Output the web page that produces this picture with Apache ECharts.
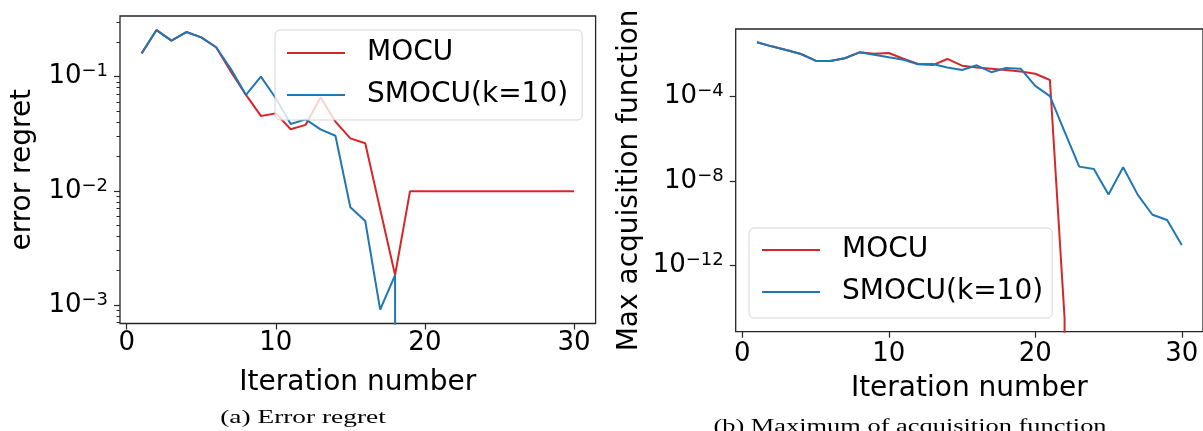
<!DOCTYPE html>
<html><head><meta charset="utf-8">
<script src="https://cdn.jsdelivr.net/npm/echarts@6/dist/echarts.min.js"></script>
<style>html,body{margin:0;padding:0;background:#fff}#c{width:1203px;height:431px}</style>
</head><body><div id="c"></div>
<script>
// ---------------- data ----------------
const iterations = [1,2,3,4,5,6,7,8,9,10,11,12,13,14,15,16,17,18,19,20,21,22,23,24,25,26,27,28,29,30];
// (a) error regret
const errMocu  = [0.160,0.256,0.207,0.246,0.221,0.181,0.110,0.0692,0.0453,0.0477,0.0346,0.0378,0.0660,0.0404,0.0288,0.0261,0.0069,0.00183,0.0099,0.0099,0.0099,0.0099,0.0099,0.0099,0.0099,0.0099,0.0099,0.0099,0.0099,0.0099];
const errSmocu = [0.160,0.256,0.207,0.246,0.221,0.181,0.116,0.0692,0.100,0.0647,0.0385,0.0423,0.0346,0.0304,0.00718,0.00544,0.00091,0.00183,0,0,0,0,0,0,0,0,0,0,0,0];
// (b) max of acquisition function
const acqMocu  = [0.0380,0.0245,0.0164,0.0106,0.00511,0.00494,0.00664,0.01276,0.01096,0.01186,0.00631,0.00356,0.00316,0.00617,0.00295,0.00245,0.00214,0.00186,0.00155,0.00123,0.000617,3.2e-15,0,0,0,0,0,0,0,0];
const acqSmocu = [0.0380,0.0245,0.0164,0.0106,0.00511,0.00494,0.00664,0.01276,0.00977,0.00741,0.00569,0.00347,0.00355,0.00245,0.00186,0.00309,0.00145,0.00229,0.00214,0.000324,0.000107,2.2e-6,4.8e-8,3.7e-8,2.3e-9,4.5e-8,2.2e-9,2.5e-10,1.4e-10,9.1e-12];
// ticks
const xTicks = [0,10,20,30];
const errTickExps = [-3,-2,-1];
const errMinorTicks = [7e-4,8e-4,9e-4,2e-3,3e-3,4e-3,5e-3,6e-3,7e-3,8e-3,9e-3,2e-2,3e-2,4e-2,5e-2,6e-2,7e-2,8e-2,9e-2,2e-1,3e-1];
const acqTickExps = [-12,-8,-4];
const seriesNames = ['MOCU','SMOCU(k=10)'];
// ---------------- layout ----------------
const xRange = [-0.45, 31.45];
const errLogRange = [-3.162, -0.4685];
const acqLogRange = [-15.151, -0.788];
const RED = '#d62728', BLUE = '#1f77b4', INK = '#262626';
const FONT = 'DejaVu Sans';

// matplotlib-like "clip" of non-positive values on a log axis
const clipPos = v => (v > 0 ? v : 1e-300);
const pairs = vals => iterations.map((x, i) => [x, clipPos(vals[i])]);

const expLabel = v => '{b|10}{s|' + (v < 0 ? '\u2212' : '') + Math.abs(Math.round(v)) + '}';
const richLbl = {
  b: {fontFamily: FONT, fontSize: 26, lineHeight: 28, color: '#000'},
  s: {fontFamily: FONT, fontSize: 18, lineHeight: 18, color: '#000', verticalAlign: 'top'}
};

function xAxisOf(gi, margin, gap) {
  return {
    type: 'value', gridIndex: gi, position: 'bottom', min: xRange[0], max: xRange[1],
    axisLine: {show: false},
    axisTick: {show: true, customValues: xTicks, length: 6, lineStyle: {color: INK, width: 1.2}},
    axisLabel: {customValues: xTicks, fontFamily: FONT, fontSize: 26, color: '#000', margin: margin},
    splitLine: {show: false},
    name: 'Iteration number', nameLocation: 'middle', nameGap: gap,
    nameTextStyle: {fontFamily: FONT, fontSize: 28, color: '#000'}
  };
}
function logAxisOf(gi, range) {
  return {
    type: 'log', logBase: 10, gridIndex: gi, position: 'left',
    min: Math.pow(10, range[0]), max: Math.pow(10, range[1]),
    axisLine: {show: false}, axisTick: {show: false}, axisLabel: {show: false}, splitLine: {show: false}
  };
}
function tickAxisOf(gi, range, exps, name, gap) {
  return {
    type: 'value', gridIndex: gi, position: 'left', min: range[0], max: range[1],
    axisLine: {show: false},
    axisTick: {show: true, customValues: exps, length: 6, lineStyle: {color: INK, width: 1.2}},
    axisLabel: {customValues: exps, formatter: expLabel, rich: richLbl, margin: 12},
    splitLine: {show: false},
    name: name, nameLocation: 'middle', nameGap: gap, nameRotate: 90,
    nameTextStyle: {fontFamily: FONT, fontSize: 28, color: '#000'}
  };
}
function minorAxisOf(gi, range, vals) {
  return {
    type: 'value', gridIndex: gi, position: 'left', min: range[0], max: range[1],
    axisLine: {show: false},
    axisTick: {show: true, customValues: vals.map(v => Math.log10(v)), length: 3.5, lineStyle: {color: INK, width: 1}},
    axisLabel: {show: false}, splitLine: {show: false}
  };
}
function lineSeries(name, color, xi, yi, vals) {
  return {
    name: name, type: 'line', xAxisIndex: xi, yAxisIndex: yi, data: pairs(vals),
    symbol: 'none', showSymbol: false, clip: true,
    lineStyle: {color: color, width: 2}, itemStyle: {color: color}
  };
}
function legendOf(left, top, pad) {
  return {
    data: seriesNames, orient: 'vertical', left: left, top: top,
    padding: pad, itemGap: 10, itemWidth: 58, itemHeight: 32,
    itemStyle: {opacity: 0},
    lineStyle: {width: 2},
    backgroundColor: 'rgba(255,255,255,0.8)', borderColor: 'rgba(204,204,204,0.8)', borderWidth: 1, borderRadius: 5,
    textStyle: {fontFamily: FONT, fontSize: 28, lineHeight: 32, color: '#000', padding: [0, 0, 0, 17]},
    selectedMode: false
  };
}

const chart = echarts.init(document.getElementById('c'), null, {renderer: 'canvas'});
chart.setOption({
  animation: false,
  backgroundColor: '#fff',
  grid: [
    {left: 120, top: 16, width: 475.6, height: 307.5, show: true, borderColor: INK, borderWidth: 1.3, backgroundColor: 'transparent'},
    {left: 735.7, top: 29, width: 467.5, height: 302.7, show: true, borderColor: INK, borderWidth: 1.3, backgroundColor: 'transparent'}
  ],
  xAxis: [xAxisOf(0, 7, 45), xAxisOf(1, 10, 43)],
  yAxis: [
    logAxisOf(0, errLogRange),
    tickAxisOf(0, errLogRange, errTickExps, 'error regret', 83),
    minorAxisOf(0, errLogRange, errMinorTicks),
    logAxisOf(1, acqLogRange),
    tickAxisOf(1, acqLogRange, acqTickExps, 'Max acquisition function', 92)
  ],
  legend: [legendOf(275, 30, [7, 14, 9, 11]), legendOf(749, 228, [6, 9, 10, 12])],
  series: [
    lineSeries('MOCU', RED, 0, 0, errMocu),
    lineSeries('SMOCU(k=10)', BLUE, 0, 0, errSmocu),
    lineSeries('MOCU', RED, 1, 3, acqMocu),
    lineSeries('SMOCU(k=10)', BLUE, 1, 3, acqSmocu)
  ],
  graphic: [
    {type: 'text', x: 303, y: 418, scaleX: 1.44, style: {text: '(a) Error regret', font: '19px "Liberation Serif"', fill: '#000', textAlign: 'center', textVerticalAlign: 'middle'}},
    {type: 'text', x: 910, y: 427, scaleX: 1.39, style: {text: '(b) Maximum of acquisition function', font: '19px "Liberation Serif"', fill: '#000', textAlign: 'center', textVerticalAlign: 'middle'}}
  ]
});
</script></body></html>
